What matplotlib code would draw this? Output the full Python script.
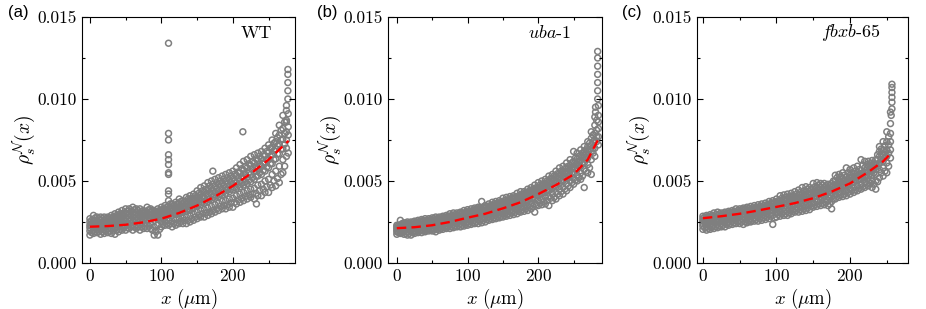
import matplotlib
matplotlib.use("Agg")
import matplotlib.pyplot as plt
from matplotlib.ticker import MultipleLocator, FormatStrFormatter

plt.rcParams['font.family'] = ['cmr10']
plt.rcParams['mathtext.fontset'] = 'cm'
plt.rcParams['axes.formatter.use_mathtext'] = True

# --- DATA (densities in units of 1e-3) ---
# panel (a) WT, points at x = 0, 5, 10, ...
WT_X = list(range(0, 280, 5))
WT_Y1 = [1.7, 1.8, 1.85, 1.75, 1.8, 1.85, 1.8, 1.75, 1.9, 2.0, 2.0, 2.1, 2.0, 2.1, 2.0, 2.1, 2.1, 2.1, 1.7, 1.7,
         2.2, 2.3, 2.3, 2.2, 2.3, 2.4, 2.4, 2.4, 2.5, 2.6, 2.7, 2.8, 2.8, 2.9, 3.0, 3.1, 3.2, 3.3, 3.3, 3.4,
         3.4, 3.6, 3.7, 3.8, 3.9, 4.0, 3.9, 4.1, 4.1, 4.3, 4.3, 4.6, 4.7, 4.9, 5.5, 6.5]
WT_Y2 = [1.95, 2.0, 2.05, 2.0, 2.05, 2.1, 2.1, 2.15, 2.2, 2.25, 2.3, 2.35, 2.3, 2.35, 2.35, 2.4, 2.4, 2.4, 2.2, 2.3,
         2.5, 2.55, 2.6, 2.55, 2.65, 2.7, 2.75, 2.8, 2.9, 3.0, 3.1, 3.2, 3.25, 3.35, 3.45, 3.55, 3.65, 3.75, 3.8, 3.9,
         3.95, 4.1, 4.2, 4.3, 4.4, 4.5, 4.55, 4.75, 4.8, 5.0, 5.1, 5.4, 5.6, 5.9, 6.3, 7.0]
WT_Y3 = [2.15, 2.2, 2.2, 2.2, 2.25, 2.3, 2.35, 2.4, 2.45, 2.5, 2.55, 2.55, 2.55, 2.6, 2.6, 2.65, 2.65, 2.7, 2.6, 2.65,
         2.75, 2.8, 2.9, 2.9, 2.95, 3.0, 3.1, 3.15, 3.2, 3.35, 3.45, 3.55, 3.65, 3.75, 3.85, 3.95, 4.05, 4.15, 4.25, 4.35,
         4.45, 4.55, 4.65, 4.75, 4.85, 4.95, 5.1, 5.3, 5.4, 5.6, 5.8, 6.05, 6.35, 6.65, 6.95, 7.5]
WT_Y4 = [2.3, 2.35, 2.4, 2.35, 2.4, 2.45, 2.5, 2.55, 2.6, 2.7, 2.75, 2.75, 2.8, 2.8, 2.8, 2.85, 2.85, 2.9, 2.85, 2.9,
         3.0, 3.05, 3.15, 3.15, 3.2, 3.3, 3.35, 3.45, 3.5, 3.65, 3.75, 3.85, 4.0, 4.1, 4.2, 4.3, 4.4, 4.5, 4.6, 4.7,
         4.8, 4.9, 5.0, 5.15, 5.25, 5.4, 5.55, 5.75, 5.9, 6.1, 6.3, 6.6, 6.95, 7.25, 7.55, 8.0]
WT_Y5 = [2.5, 2.6, 2.55, 2.6, 2.6, 2.65, 2.7, 2.75, 2.85, 2.95, 3.0, 3.0, 3.1, 3.05, 3.05, 3.0, 3.1, 3.1, 3.0, 3.1,
         3.2, 3.3, 3.45, 3.35, 3.45, 3.6, 3.6, 3.75, 3.8, 3.95, 4.05, 4.2, 4.35, 4.5, 4.6, 4.7, 4.8, 4.9, 5.0, 5.1,
         5.2, 5.35, 5.5, 5.65, 5.8, 5.95, 6.1, 6.25, 6.35, 6.55, 6.75, 7.05, 7.4, 7.8, 8.2, 8.6]
WT_Y6 = [2.7, 2.9, 2.8, 2.8, 2.8, 2.8, 2.9, 3.0, 3.1, 3.2, 3.3, 3.3, 3.4, 3.3, 3.3, 3.2, 3.4, 3.3, 3.2, 3.3,
         3.4, 3.5, 3.8, 3.6, 3.7, 3.9, 3.8, 4.0, 4.1, 4.2, 4.4, 4.6, 4.7, 4.9, 5.0, 5.1, 5.2, 5.3, 5.4, 5.5,
         5.6, 5.8, 6.0, 6.2, 6.3, 6.5, 6.6, 6.7, 6.8, 7.0, 7.2, 7.5, 7.9, 8.4, 9.0, 9.6]
# panel (a), points at x = 2.5, 7.5, 12.5, ...
WT_XB = [2.5 + 5 * k for k in range(56)]
WT_Z1 = [1.85, 1.9, 1.9, 1.9, 1.95, 1.95, 1.95, 2.0, 2.05, 2.15, 2.15, 2.2, 2.2, 2.2, 2.2, 2.25, 2.25, 2.0, 1.9, 2.05,
         2.35, 2.4, 2.4, 2.4, 2.45, 2.55, 2.6, 2.6, 2.7, 2.8, 2.9, 3.0, 3.05, 3.1, 3.2, 3.3, 3.45, 3.5, 3.55, 3.65,
         3.7, 3.85, 3.95, 4.05, 4.15, 4.2, 4.25, 4.4, 4.5, 4.65, 4.75, 5.0, 5.15, 5.4, 5.9, 6.7]
WT_Z2 = [2.25, 2.3, 2.3, 2.3, 2.3, 2.4, 2.4, 2.5, 2.55, 2.6, 2.65, 2.65, 2.7, 2.7, 2.7, 2.75, 2.75, 2.8, 2.75, 2.8,
         2.85, 2.95, 3.0, 3.05, 3.1, 3.15, 3.25, 3.3, 3.35, 3.5, 3.6, 3.7, 3.8, 3.9, 4.0, 4.1, 4.2, 4.35, 4.45, 4.5,
         4.6, 4.75, 4.85, 4.95, 5.05, 5.2, 5.3, 5.5, 5.65, 5.85, 6.05, 6.3, 6.65, 6.95, 7.25, 7.8]
WT_Z3 = [2.4, 2.45, 2.5, 2.45, 2.5, 2.55, 2.6, 2.65, 2.75, 2.85, 2.9, 2.9, 2.95, 2.9, 2.9, 2.95, 3.0, 2.95, 2.95, 3.0,
         3.1, 3.2, 3.3, 3.25, 3.35, 3.45, 3.5, 3.6, 3.65, 3.8, 3.9, 4.05, 4.2, 4.3, 4.4, 4.5, 4.6, 4.7, 4.8, 4.9,
         5.0, 5.15, 5.25, 5.4, 5.55, 5.7, 5.85, 6.0, 6.1, 6.3, 6.5, 6.85, 7.15, 7.5, 7.9, 8.3]
WT_Z4 = [2.6, 2.75, 2.7, 2.7, 2.7, 2.75, 2.8, 2.9, 3.0, 3.05, 3.15, 3.15, 3.25, 3.2, 3.15, 3.1, 3.25, 3.2, 3.1, 3.2,
         3.3, 3.4, 3.6, 3.5, 3.6, 3.75, 3.7, 3.9, 3.95, 4.1, 4.25, 4.4, 4.5, 4.7, 4.8, 4.9, 5.0, 5.1, 5.2, 5.3,
         5.4, 5.55, 5.75, 5.9, 6.05, 6.2, 6.35, 6.5, 6.6, 6.8, 7.0, 7.3, 7.65, 8.1, 8.6, 9.1]
WT_OUT_X = [110, 110, 110, 110, 110, 110, 110, 110, 110, 110, 172, 214, 233, 277, 277, 277, 277, 277, 275, 275]
WT_OUT_Y = [4.2, 4.4, 5.4, 5.5, 6.0, 6.3, 6.6, 7.5, 7.9, 13.4, 5.6, 8.0, 3.6, 10.0, 10.5, 11.0, 11.5, 11.8, 9.3, 8.7]
WT_FIT_X = [0, 25, 50, 75, 100, 125, 150, 175, 200, 225, 250, 278]
WT_FIT_Y = [2.21, 2.25, 2.33, 2.48, 2.7, 3.05, 3.5, 4.05, 4.7, 5.45, 6.3, 7.45]

# panel (b) uba-1
UBA_X = list(range(0, 290, 5))
UBA_Y1 = [1.75, 1.8, 1.75, 1.7, 1.7, 1.8, 1.85, 1.85, 1.9, 1.95, 1.95, 1.9, 2.0, 2.05, 2.1, 2.1, 2.15, 2.2, 2.2, 2.25,
          2.3, 2.35, 2.4, 2.4, 2.45, 2.5, 2.6, 2.65, 2.7, 2.75, 2.8, 2.85, 2.9, 2.95, 3.0, 3.1, 3.15, 3.2, 3.3, 3.1,
          3.5, 3.55, 3.6, 3.5, 3.8, 3.9, 4.1, 4.2, 4.4, 4.6, 4.8, 5.0, 5.1, 4.6, 5.5, 5.4, 6.5, 7.2]
UBA_Y2 = [1.9, 1.95, 1.9, 1.9, 1.9, 1.95, 2.0, 2.0, 2.05, 2.1, 2.1, 2.1, 2.15, 2.2, 2.25, 2.3, 2.35, 2.4, 2.4, 2.45,
          2.5, 2.55, 2.6, 2.65, 2.7, 2.75, 2.8, 2.85, 2.9, 2.95, 3.0, 3.1, 3.15, 3.2, 3.3, 3.35, 3.45, 3.5, 3.6, 3.6,
          3.8, 3.9, 4.0, 4.05, 4.2, 4.3, 4.5, 4.6, 4.8, 5.0, 5.15, 5.35, 5.5, 5.7, 6.0, 6.3, 7.0, 7.7]
UBA_Y3 = [2.0, 2.05, 2.05, 2.05, 2.05, 2.1, 2.15, 2.15, 2.2, 2.25, 2.3, 2.3, 2.35, 2.4, 2.4, 2.45, 2.5, 2.55, 2.6, 2.65,
          2.7, 2.75, 2.8, 2.85, 2.9, 2.95, 3.0, 3.05, 3.1, 3.2, 3.25, 3.3, 3.4, 3.45, 3.55, 3.6, 3.7, 3.8, 3.9, 3.95,
          4.1, 4.2, 4.3, 4.4, 4.55, 4.65, 4.85, 5.0, 5.15, 5.35, 5.5, 5.7, 5.9, 6.1, 6.4, 6.8, 7.5, 8.2]
UBA_Y4 = [2.1, 2.15, 2.2, 2.2, 2.2, 2.25, 2.3, 2.3, 2.35, 2.4, 2.45, 2.45, 2.5, 2.55, 2.6, 2.65, 2.7, 2.75, 2.8, 2.85,
          2.9, 2.95, 3.0, 3.05, 3.1, 3.15, 3.2, 3.3, 3.35, 3.4, 3.45, 3.55, 3.6, 3.7, 3.8, 3.85, 3.95, 4.05, 4.15, 4.25,
          4.35, 4.45, 4.6, 4.7, 4.85, 5.0, 5.15, 5.3, 5.45, 5.65, 5.85, 6.05, 6.25, 6.45, 6.8, 7.2, 7.9, 8.6]
UBA_Y5 = [2.2, 2.3, 2.35, 2.35, 2.35, 2.4, 2.45, 2.5, 2.55, 2.55, 2.6, 2.65, 2.65, 2.7, 2.75, 2.8, 2.85, 2.9, 2.95, 3.0,
          3.05, 3.1, 3.2, 3.25, 3.3, 3.35, 3.4, 3.5, 3.55, 3.6, 3.7, 3.75, 3.85, 3.9, 4.0, 4.1, 4.2, 4.3, 4.4, 4.5,
          4.6, 4.75, 4.85, 5.0, 5.15, 5.3, 5.45, 5.6, 5.75, 5.95, 6.2, 6.35, 6.55, 6.8, 7.1, 7.6, 8.4, 9.0]
UBA_Y6 = [2.3, 2.6, 2.45, 2.5, 2.5, 2.55, 2.6, 2.65, 2.7, 2.7, 2.75, 2.8, 2.8, 2.85, 2.9, 3.0, 3.05, 3.05, 3.1, 3.2,
          3.25, 3.3, 3.35, 3.4, 3.75, 3.5, 3.6, 3.7, 3.75, 3.8, 3.95, 4.0, 4.05, 4.1, 4.25, 4.35, 4.35, 4.5, 4.6, 4.75,
          4.9, 5.0, 5.1, 5.3, 5.4, 5.6, 5.8, 5.9, 6.1, 6.3, 6.8, 6.7, 6.9, 7.1, 7.4, 8.0, 8.9, 9.6]
UBA_XB = [2.5 + 5 * k for k in range(57)]
UBA_Z1 = [1.85, 1.85, 1.8, 1.8, 1.85, 1.9, 1.95, 1.95, 2.0, 2.05, 2.0, 2.05, 2.1, 2.15, 2.2, 2.2, 2.25, 2.3, 2.3, 2.35,
          2.4, 2.45, 2.5, 2.55, 2.6, 2.65, 2.7, 2.75, 2.8, 2.85, 2.9, 3.0, 3.05, 3.1, 3.15, 3.25, 3.3, 3.4, 3.45, 3.55,
          3.65, 3.75, 3.8, 3.95, 4.0, 4.2, 4.35, 4.5, 4.7, 4.9, 5.05, 5.2, 5.3, 5.6, 5.8, 6.7, 7.4]
UBA_Z2 = [2.05, 2.1, 2.1, 2.15, 2.15, 2.2, 2.2, 2.25, 2.3, 2.35, 2.35, 2.4, 2.45, 2.5, 2.5, 2.55, 2.6, 2.65, 2.7, 2.75,
          2.8, 2.85, 2.9, 2.95, 3.0, 3.05, 3.1, 3.2, 3.25, 3.3, 3.35, 3.45, 3.5, 3.6, 3.65, 3.75, 3.85, 3.95, 4.0, 4.15,
          4.25, 4.35, 4.45, 4.6, 4.7, 4.9, 5.05, 5.2, 5.3, 5.5, 5.7, 5.9, 6.1, 6.3, 6.6, 7.0, 7.7]
UBA_Z3 = [2.15, 2.25, 2.3, 2.25, 2.3, 2.35, 2.35, 2.4, 2.45, 2.5, 2.5, 2.55, 2.6, 2.65, 2.7, 2.7, 2.8, 2.85, 2.85, 2.9,
          3.0, 3.05, 3.1, 3.15, 3.2, 3.25, 3.3, 3.4, 3.45, 3.5, 3.6, 3.65, 3.75, 3.8, 3.9, 4.0, 4.1, 4.15, 4.3, 4.4,
          4.5, 4.6, 4.75, 4.9, 5.05, 5.2, 5.35, 5.5, 5.6, 5.8, 6.0, 6.2, 6.4, 6.65, 6.9, 7.4, 8.1]
UBA_Z4 = [2.3, 2.4, 2.4, 2.45, 2.45, 2.5, 2.55, 2.6, 2.6, 2.65, 2.7, 2.7, 2.75, 2.8, 2.85, 2.9, 2.95, 3.0, 3.05, 3.1,
          3.15, 3.2, 3.3, 3.35, 3.4, 3.45, 3.5, 3.6, 3.65, 3.7, 3.8, 3.85, 3.95, 4.0, 4.1, 4.2, 4.3, 4.4, 4.5, 4.6,
          4.75, 4.85, 5.0, 5.15, 5.3, 5.45, 5.6, 5.75, 5.9, 6.1, 6.4, 6.5, 6.7, 6.9, 7.3, 7.8, 8.7]
UBA_OUT_X = [284, 284, 284, 284, 284, 284, 284, 281, 281]
UBA_OUT_Y = [10.0, 10.5, 11.0, 11.5, 12.0, 12.5, 12.9, 9.2, 9.5]
UBA_FIT_X = [0, 25, 50, 75, 100, 125, 150, 175, 200, 225, 250, 270, 285]
UBA_FIT_Y = [2.12, 2.18, 2.3, 2.5, 2.76, 3.0, 3.33, 3.7, 4.2, 4.75, 5.4, 6.3, 7.55]

# panel (c) fbxb-65
FBX_X = list(range(0, 260, 5))
FBX_Y1 = [2.05, 2.0, 2.05, 2.1, 2.15, 2.2, 2.2, 2.3, 2.35, 2.4, 2.4, 2.35, 2.45, 2.5, 2.55, 2.55, 2.6, 2.65, 2.7, 2.35,
          2.8, 2.85, 2.9, 2.9, 3.0, 3.1, 3.1, 3.15, 3.2, 3.25, 3.4, 3.45, 3.5, 3.55, 3.5, 3.3, 3.9, 4.0, 4.05, 4.1,
          4.2, 4.3, 4.4, 4.5, 4.6, 4.7, 4.6, 4.5, 5.2, 5.3, 5.5, 6.4]
FBX_Y2 = [2.25, 2.2, 2.3, 2.3, 2.35, 2.4, 2.45, 2.5, 2.55, 2.6, 2.6, 2.6, 2.65, 2.7, 2.75, 2.8, 2.85, 2.9, 2.95, 2.9,
          3.05, 3.1, 3.15, 3.15, 3.25, 3.3, 3.35, 3.45, 3.5, 3.55, 3.65, 3.75, 3.8, 3.85, 3.8, 3.75, 4.2, 4.3, 4.35, 4.4,
          4.5, 4.6, 4.7, 4.8, 4.95, 5.0, 5.0, 5.0, 5.7, 5.8, 6.1, 6.9]
FBX_Y3 = [2.4, 2.4, 2.5, 2.5, 2.55, 2.6, 2.6, 2.65, 2.7, 2.75, 2.8, 2.8, 2.85, 2.9, 2.95, 3.0, 3.05, 3.1, 3.15, 3.2,
          3.25, 3.3, 3.35, 3.4, 3.5, 3.55, 3.6, 3.7, 3.75, 3.85, 3.95, 4.05, 4.05, 4.1, 4.05, 4.05, 4.45, 4.55, 4.6, 4.7,
          4.8, 4.9, 5.0, 5.1, 5.2, 5.3, 5.35, 5.4, 6.1, 6.2, 6.5, 7.4]
FBX_Y4 = [2.55, 2.6, 2.65, 2.7, 2.7, 2.75, 2.8, 2.85, 2.9, 2.95, 3.0, 3.0, 3.05, 3.1, 3.15, 3.2, 3.25, 3.3, 3.35, 3.4,
          3.5, 3.55, 3.6, 3.65, 3.75, 3.8, 3.85, 3.95, 4.05, 4.1, 4.2, 4.3, 4.3, 4.35, 4.3, 4.3, 4.7, 4.8, 4.85, 4.95,
          5.05, 5.15, 5.25, 5.35, 5.5, 5.6, 5.65, 5.7, 6.5, 6.6, 6.9, 7.9]
FBX_Y5 = [2.7, 2.75, 2.8, 2.85, 2.9, 2.9, 2.95, 3.0, 3.05, 3.1, 3.15, 3.2, 3.25, 3.25, 3.3, 3.35, 3.4, 3.45, 3.55, 3.6,
          3.7, 3.8, 3.85, 3.9, 4.0, 4.05, 4.15, 4.25, 4.35, 4.35, 4.5, 4.6, 4.6, 4.6, 4.55, 4.6, 5.0, 5.05, 5.15, 5.25,
          5.35, 5.45, 5.55, 5.65, 5.8, 5.9, 5.95, 6.0, 6.8, 6.9, 7.4, 8.5]
FBX_Y6 = [2.85, 2.9, 2.95, 3.05, 3.1, 3.05, 3.1, 3.15, 3.2, 3.3, 3.3, 3.35, 3.4, 3.45, 3.5, 3.55, 3.6, 3.65, 3.75, 3.8,
          3.9, 4.1, 4.15, 4.2, 4.25, 4.35, 4.45, 4.6, 4.65, 4.6, 4.85, 4.9, 4.85, 4.85, 4.8, 4.85, 5.35, 5.4, 5.5, 5.8,
          5.7, 5.8, 5.9, 6.3, 6.2, 6.2, 6.25, 6.3, 7.1, 7.4, 8.0, 9.2]
FBX_XB = [2.5 + 5 * k for k in range(51)]
FBX_Z1 = [2.15, 2.1, 2.2, 2.2, 2.25, 2.3, 2.35, 2.4, 2.45, 2.5, 2.5, 2.5, 2.55, 2.6, 2.65, 2.7, 2.75, 2.8, 2.85, 2.75,
          2.95, 3.0, 3.0, 3.05, 3.15, 3.2, 3.25, 3.3, 3.35, 3.45, 3.55, 3.6, 3.65, 3.7, 3.6, 3.9, 4.05, 4.15, 4.2, 4.3,
          4.4, 4.45, 4.55, 4.65, 4.8, 4.85, 4.8, 4.95, 5.5, 5.6, 5.9]
FBX_Z2 = [2.5, 2.5, 2.55, 2.6, 2.65, 2.7, 2.7, 2.75, 2.8, 2.85, 2.9, 2.95, 2.95, 3.0, 3.05, 3.1, 3.15, 3.2, 3.25, 3.3,
          3.4, 3.45, 3.5, 3.55, 3.6, 3.7, 3.75, 3.85, 3.9, 4.0, 4.1, 4.15, 4.2, 4.2, 4.15, 4.4, 4.6, 4.65, 4.75, 4.85,
          4.9, 5.05, 5.15, 5.25, 5.35, 5.45, 5.5, 5.9, 6.3, 6.4, 6.7]
FBX_Z3 = [2.6, 2.7, 2.75, 2.8, 2.8, 2.85, 2.9, 2.9, 3.0, 3.05, 3.1, 3.1, 3.15, 3.2, 3.25, 3.3, 3.35, 3.4, 3.45, 3.5,
          3.6, 3.65, 3.75, 3.8, 3.85, 3.95, 4.0, 4.1, 4.2, 4.25, 4.35, 4.45, 4.45, 4.45, 4.4, 4.7, 4.85, 4.95, 5.05, 5.1,
          5.2, 5.3, 5.4, 5.5, 5.65, 5.75, 5.8, 6.3, 6.65, 6.75, 7.2]
FBX_Z4 = [2.8, 2.85, 2.9, 2.95, 3.0, 3.0, 3.05, 3.1, 3.15, 3.2, 3.25, 3.3, 3.35, 3.35, 3.4, 3.45, 3.5, 3.55, 3.65, 3.7,
          3.8, 3.95, 4.0, 4.05, 4.1, 4.2, 4.3, 4.4, 4.5, 4.5, 4.65, 4.75, 4.75, 4.7, 4.7, 5.0, 5.2, 5.25, 5.35, 5.5,
          5.5, 5.6, 5.7, 5.95, 6.0, 6.05, 6.1, 6.6, 6.95, 7.15, 7.7]
FBX_OUT_X = [257, 257, 257, 257, 257, 257, 256]
FBX_OUT_Y = [9.4, 9.8, 10.1, 10.4, 10.7, 10.9, 9.0]
FBX_FIT_X = [0, 25, 50, 75, 100, 125, 150, 175, 200, 225, 245, 256]
FBX_FIT_Y = [2.73, 2.85, 3.0, 3.2, 3.42, 3.65, 3.95, 4.35, 4.85, 5.55, 6.2, 6.7]

PANELS = [
    ("(a)", "WT",
     [(WT_X, r) for r in (WT_Y1, WT_Y2, WT_Y3, WT_Y4, WT_Y5, WT_Y6)]
     + [(WT_XB, r) for r in (WT_Z1, WT_Z2, WT_Z3, WT_Z4)] + [(WT_OUT_X, WT_OUT_Y)],
     WT_FIT_X, WT_FIT_Y),
    ("(b)", r"$\mathit{uba}$-$\mathit{1}$",
     [(UBA_X, r) for r in (UBA_Y1, UBA_Y2, UBA_Y3, UBA_Y4, UBA_Y5, UBA_Y6)]
     + [(UBA_XB, r) for r in (UBA_Z1, UBA_Z2, UBA_Z3, UBA_Z4)] + [(UBA_OUT_X, UBA_OUT_Y)],
     UBA_FIT_X, UBA_FIT_Y),
    ("(c)", r"$\mathit{fbxb}$-$\mathit{65}$",
     [(FBX_X, r) for r in (FBX_Y1, FBX_Y2, FBX_Y3, FBX_Y4, FBX_Y5, FBX_Y6)]
     + [(FBX_XB, r) for r in (FBX_Z1, FBX_Z2, FBX_Z3, FBX_Z4)] + [(FBX_OUT_X, FBX_OUT_Y)],
     FBX_FIT_X, FBX_FIT_Y),
]

# axes layout (figure fractions) and x-limits per panel
BOXES = [[0.0886, 0.149, 0.230, 0.796], [0.419, 0.149, 0.231, 0.796], [0.7527, 0.149, 0.228, 0.796]]
XLIMS = [(-11, 287), (-12.5, 290), (-8, 279)]
NAME_X = [0.82, 0.757, 0.727]
LETTER_X = [0.009, 0.342, 0.672]

fig = plt.figure(figsize=(9.26, 3.09), dpi=100)

for i, (letter, name, groups, fx, fy) in enumerate(PANELS):
    ax = fig.add_axes(BOXES[i])
    for xs, ys in groups:
        ax.scatter(xs, [v * 1e-3 for v in ys], s=18, facecolors='none', edgecolors='#7f7f7f', linewidths=1.1)
    ax.plot(fx, [v * 1e-3 for v in fy], color='red', linestyle=(0, (4, 2.2)), linewidth=1.7, zorder=5)

    ax.set_xlim(*XLIMS[i])
    ax.set_ylim(0, 0.015)
    ax.xaxis.set_major_locator(MultipleLocator(100))
    ax.xaxis.set_minor_locator(MultipleLocator(50))
    ax.yaxis.set_major_locator(MultipleLocator(0.005))
    ax.yaxis.set_minor_locator(MultipleLocator(0.0025))
    ax.yaxis.set_major_formatter(FormatStrFormatter('%.3f'))
    ax.tick_params(which='both', direction='in', top=True, right=True, labelsize=12.5, width=0.8)
    ax.tick_params(which='major', length=4)
    ax.tick_params(which='minor', length=2.2)
    for sp in ax.spines.values():
        sp.set_linewidth(0.8)

    ax.set_xlabel(r'$x\ (\mu\mathrm{m})$', fontsize=13.5, labelpad=2)
    ax.set_ylabel(r'$\rho_s^{\mathcal{N}}(x)$', fontsize=14, labelpad=0)
    ax.text(NAME_X[i], 0.935, name, transform=ax.transAxes, ha='center', va='center', fontsize=13)

    fig.text(LETTER_X[i], 0.985, letter, ha='left', va='top', fontsize=12, family='Liberation Sans')

fig.savefig('out.png', dpi=100)
